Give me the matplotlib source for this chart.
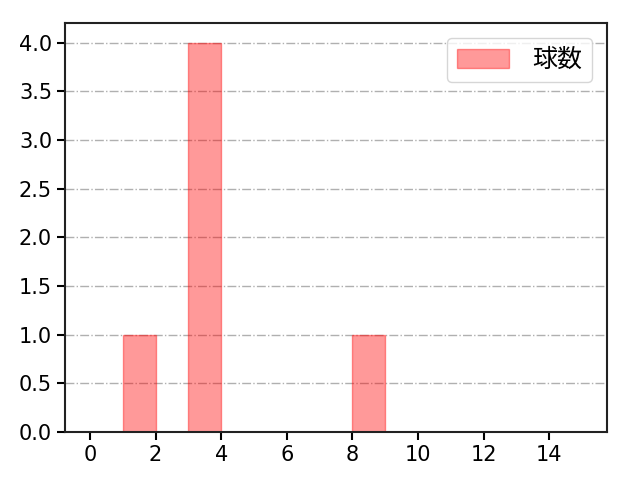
import numpy as np
import matplotlib
matplotlib.use("Agg")
from matplotlib import pyplot as plt

plt.rcParams['font.family'] = ['DejaVu Sans', 'Noto Sans CJK JP']

# histogram bins (width 1) and pitch counts per bin
bin_edges = list(range(0, 16))
counts = [0, 1, 0, 4, 0, 0, 0, 0, 1, 0, 0, 0, 0, 0, 0]
label = "球数"

fig = plt.figure(figsize=(6.4, 4.8), dpi=100)
ax = fig.add_axes([0.102, 0.1, 0.846, 0.852])

ax.hist(bin_edges[:-1], bins=bin_edges, weights=counts,
        color='red', alpha=0.4, edgecolor='red', linewidth=1, label=label)

ax.set_xticks(range(0, 16, 2))
ax.set_yticks(np.arange(0, 4.01, 0.5))
ax.tick_params(labelsize=15, width=1.5, length=6)
ax.grid(True, axis='y', linestyle='-.', color='#b0b0b0', linewidth=1)
ax.set_axisbelow(True)
for s in ax.spines.values():
    s.set_linewidth(1.5)
    s.set_color('#222222')
ax.legend(loc='upper right', fontsize=18, handlelength=2.1, handleheight=0.8,
          handletextpad=0.9, borderaxespad=0.6)

fig.savefig('out.png')
